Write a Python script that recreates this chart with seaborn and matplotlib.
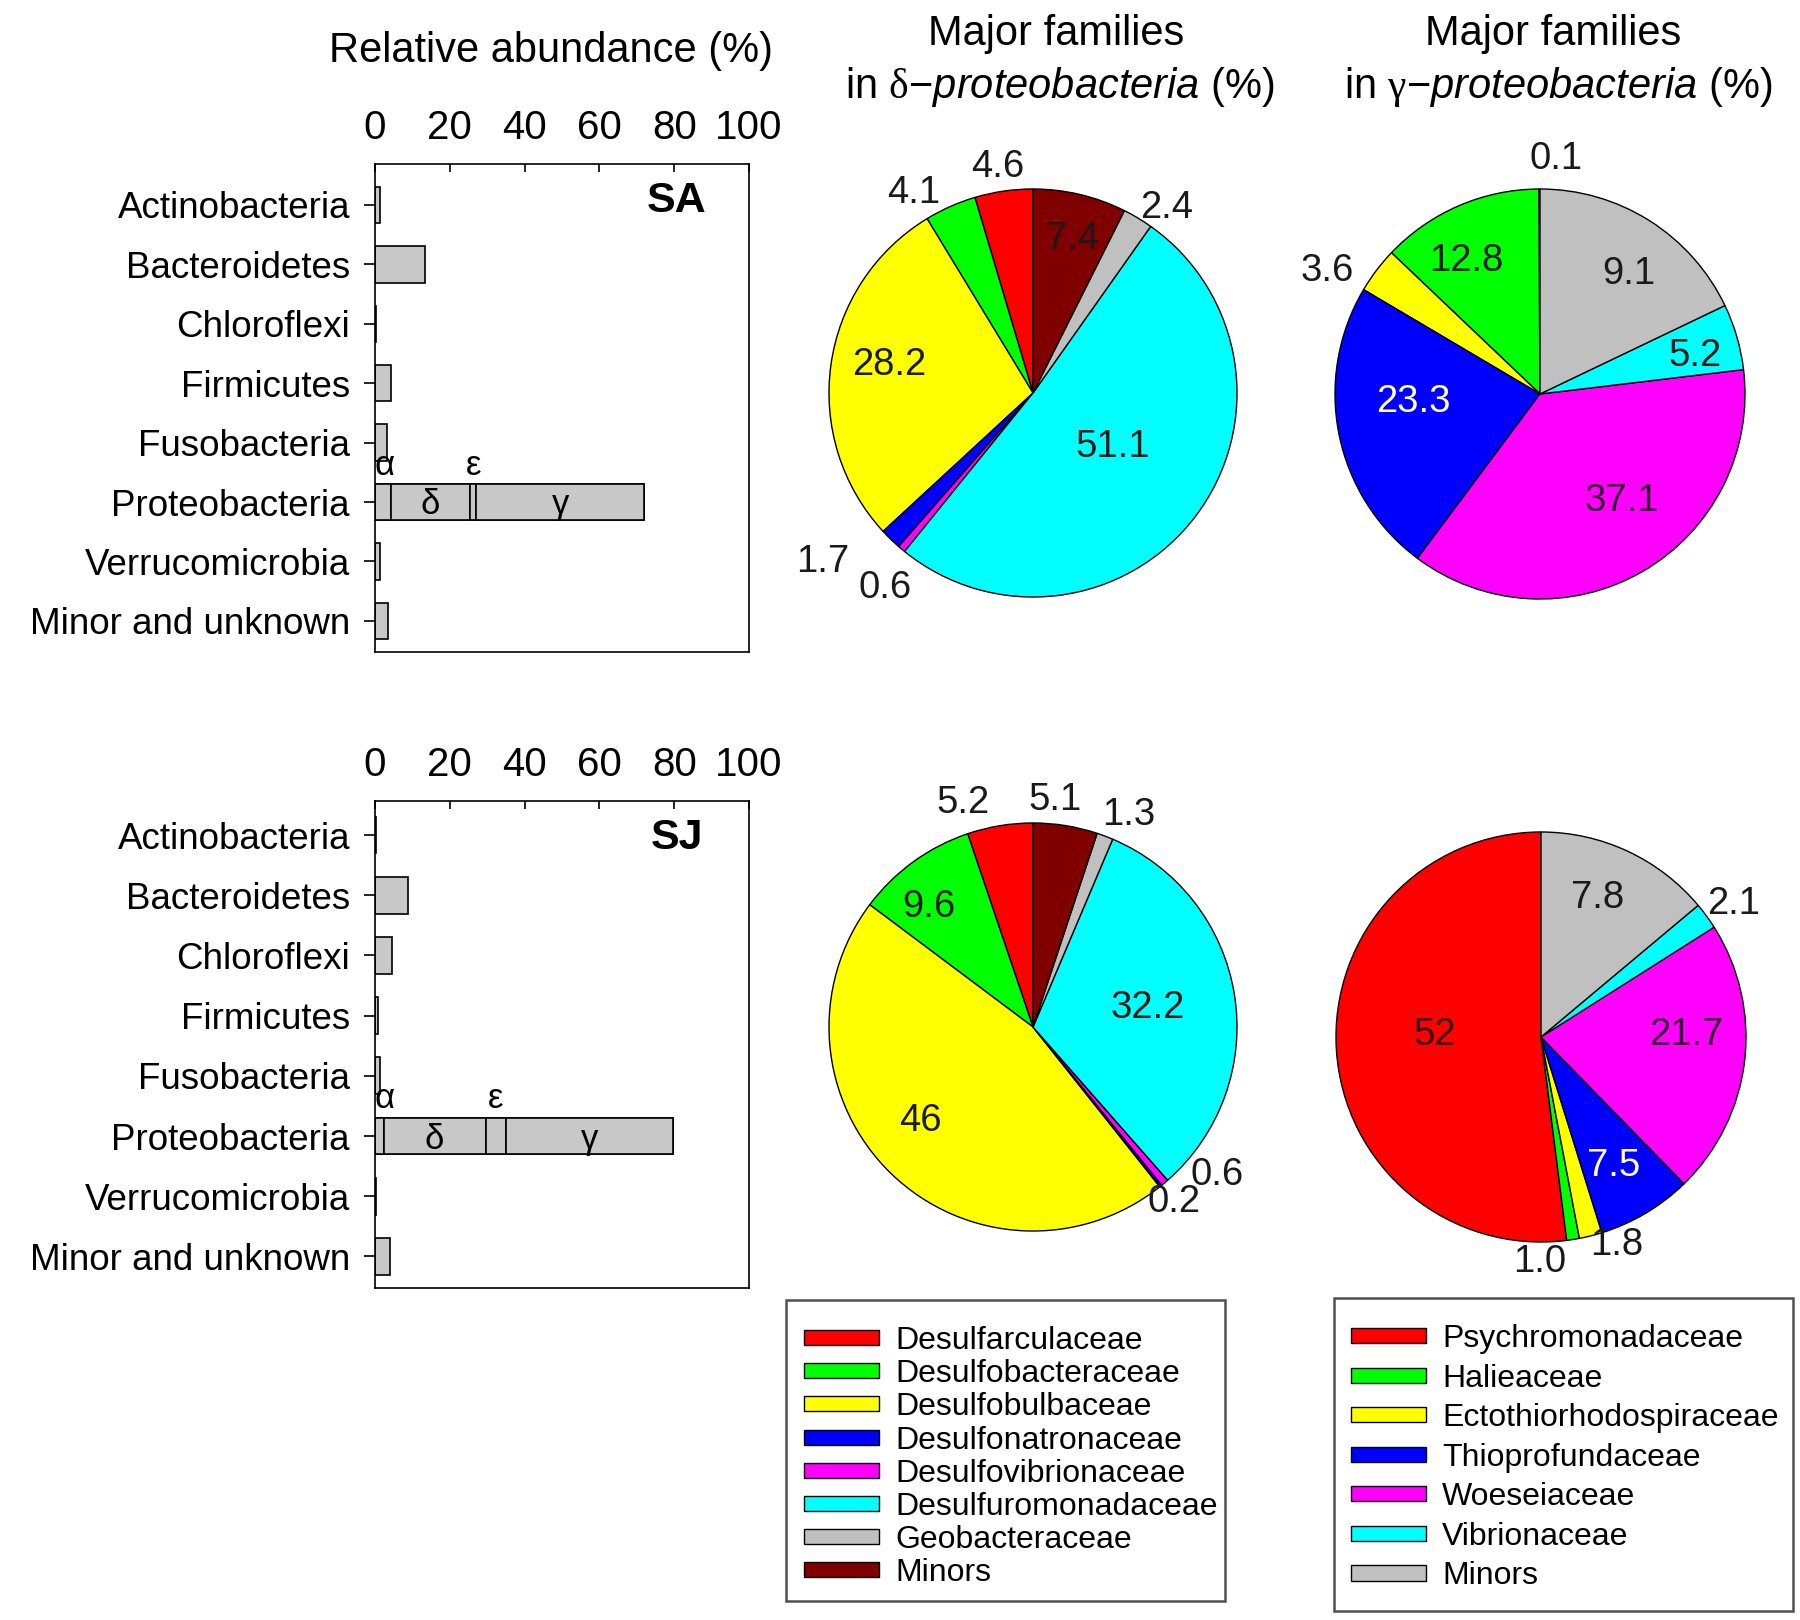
import matplotlib
matplotlib.use("Agg")
import matplotlib.pyplot as plt
from matplotlib.patches import Patch, Rectangle
import seaborn as sns
import pandas as pd
import numpy as np

# ---- data ----
phyla = ['Actinobacteria', 'Bacteroidetes', 'Chloroflexi', 'Firmicutes',
         'Fusobacteria', 'Proteobacteria', 'Verrucomicrobia', 'Minor and unknown']
sa_phyla = [1.4, 13.4, 0.4, 4.2, 3.1, 71.9, 1.4, 3.4]
sj_phyla = [0.4, 8.7, 4.6, 0.7, 1.4, 79.8, 0.3, 4.0]

proteo_classes = ['α', 'δ', 'ε', 'γ']
sa_classes = [4.2, 21.3, 1.6, 44.8]
sj_classes = [2.3, 27.3, 5.5, 44.7]

delta_families = ['Desulfarculaceae', 'Desulfobacteraceae', 'Desulfobulbaceae',
                  'Desulfonatronaceae', 'Desulfovibrionaceae', 'Desulfuromonadaceae',
                  'Geobacteraceae', 'Minors']
delta_colors = ['#ff0000', '#00ff00', '#ffff00', '#0000ff', '#ff00ff', '#00ffff',
                '#c0c0c0', '#800000']
sa_delta = [4.6, 4.1, 28.2, 1.7, 0.6, 51.1, 2.4, 7.4]
sj_delta = [5.2, 9.6, 46, 0.2, 0.6, 32.2, 1.3, 5.1]
sa_delta_labels = ['4.6', '4.1', '28.2', '1.7', '0.6', '51.1', '2.4', '7.4']
sj_delta_labels = ['5.2', '9.6', '46', '0.2', '0.6', '32.2', '1.3', '5.1']

gamma_families = ['Psychromonadaceae', 'Halieaceae', 'Ectothiorhodospiraceae',
                  'Thioprofundaceae', 'Woeseiaceae', 'Vibrionaceae', 'Minors']
gamma_colors = ['#ff0000', '#00ff00', '#ffff00', '#0000ff', '#ff00ff', '#00ffff',
                '#c0c0c0']
# slice sizes as drawn (the grey slice is larger than its printed label)
sa_gamma = [0.1, 12.8, 3.6, 23.3, 37.1, 5.2, 17.9]
sj_gamma = [52, 1.0, 1.8, 7.5, 21.7, 2.1, 13.9]
sa_gamma_labels = ['0.1', '12.8', '3.6', '23.3', '37.1', '5.2', '9.1']
sj_gamma_labels = ['52', '1.0', '1.8', '7.5', '21.7', '2.1', '7.8']

# label placement per slice: (radius, angle nudge in degrees, colour)
sa_delta_pos = [(1.12, 0.5, 'k'), (1.14, 7, 'k'), (0.72, -3, 'k'), (1.32, -7, 'k'),
                (1.2, 3, 'k'), (0.47, 3, 'k'), (1.12, -5, 'k'), (0.78, -1, '#1a1a1a')]
sj_delta_pos = [(1.15, 8, 'k'), (0.78, 5, 'k'), (0.72, -6, 'k'), (1.1, 0, 'k'),
                (1.16, 11, 'k'), (0.57, 0, 'k'), (1.14, -3.7, 'k'), (1.12, 3.6, 'k')]
sa_gamma_pos = [(1.15, -4, 'k'), (0.74, 5.6, 'k'), (1.2, 7, 'k'), (0.62, -7.7, 'white'),
                (0.66, 7.4, '#300030'), (0.78, -2.3, 'k'), (0.73, -4.3, 'k')]
sj_gamma_pos = [(0.52, -4.6, '#300000'), (1.1, -9.3, 'k'), (1.08, 6, 'k'),
                (0.72, -1.4, 'white'), (0.71, 7.3, '#300030'), (1.14, -1.6, 'k'),
                (0.73, 2.9, 'k')]

W, H = 1800, 1620
BAR_GRAY = '#c8c8c8'

sns.set_theme(style='ticks')
plt.rcParams['font.family'] = ['Liberation Sans', 'DejaVu Sans']
plt.rcParams['mathtext.fontset'] = 'custom'
plt.rcParams['mathtext.rm'] = 'Liberation Serif'
plt.rcParams['mathtext.it'] = 'Liberation Sans:italic'
plt.rcParams['text.color'] = 'black'
plt.rcParams['legend.labelcolor'] = 'black'

fig = plt.figure(figsize=(W / 100, H / 100), dpi=100)


def px_rect(x, y, w, h):
    return [x / W, 1 - (y + h) / H, w / W, h / H]


def draw_bars(rect, values, cls_values, tag, ylim):
    ax = fig.add_axes(px_rect(*rect))
    df = pd.DataFrame({'phylum': phyla, 'value': values})
    sns.barplot(data=df, x='value', y='phylum', orient='h', color=BAR_GRAY,
                saturation=1, width=0.61, edgecolor='black', linewidth=1.2, ax=ax)
    row = phyla.index('Proteobacteria')
    left = np.concatenate([[0], np.cumsum(cls_values)[:-1]])
    ax.barh([row] * len(cls_values), cls_values, left=left, height=0.61,
            color=BAR_GRAY, edgecolor='black', linewidth=1.2)
    # class letters
    ax.text(0, row - 0.62, proteo_classes[0], ha='left', va='center', fontsize=25)
    ax.text(left[2] + cls_values[2] / 2, row - 0.62, proteo_classes[2],
            ha='center', va='center', fontsize=25)
    for i in (1, 3):
        ax.text(left[i] + cls_values[i] / 2, row + 0.05, proteo_classes[i],
                ha='center', va='center', fontsize=25)
    ax.text(0.807, 0.925, tag, transform=ax.transAxes, ha='center', va='center',
            fontsize=31, fontweight='bold')
    ax.set_xlim(0, 100)
    ax.set_ylim(*ylim)
    ax.set_xticks([0, 20, 40, 60, 80, 100])
    ax.set_xlabel('')
    ax.set_ylabel('')
    ax.tick_params(axis='x', top=True, bottom=False, labeltop=True, labelbottom=False,
                   direction='in', length=6, width=1.2, pad=12, labelsize=29, colors='black')
    ax.tick_params(axis='y', left=True, direction='out', length=8, width=1.2, pad=10,
                   labelsize=26.5, colors='black')
    for s in ax.spines.values():
        s.set_visible(True)
        s.set_color('black')
        s.set_linewidth(1.2)
    return ax


def draw_pie(center, r, sizes, labels, colors, layout):
    cx, cy = center
    ax = fig.add_axes(px_rect(cx - r, cy - r, 2 * r, 2 * r))
    wedges, _ = ax.pie(sizes, colors=colors, startangle=90, counterclock=True,
                       wedgeprops=dict(edgecolor='black', linewidth=1.0, clip_on=False))
    ax.set_xlim(-1, 1)
    ax.set_ylim(-1, 1)
    ax.set_aspect('equal')
    ax.axis('off')
    for w, txt, (rad, nudge, col) in zip(wedges, labels, layout):
        ang = np.deg2rad((w.theta1 + w.theta2) / 2 + nudge)
        ax.text(rad * np.cos(ang), rad * np.sin(ang), txt, ha='center', va='center',
                fontsize=27.5, color=col, clip_on=False)
    return ax


def draw_legend(box, names, colors, anchor, spacing):
    x, y, w, h = box
    fig.patches.append(Rectangle((x / W, 1 - (y + h) / H), w / W, h / H,
                                 transform=fig.transFigure, fill=False,
                                 edgecolor='#505050', linewidth=1.8))
    handles = [Patch(facecolor=c, edgecolor='black', linewidth=1.0) for c in colors]
    fig.legend(handles, names, loc='upper left',
               bbox_to_anchor=(anchor[0] / W, 1 - anchor[1] / H),
               frameon=False, fontsize=23, handlelength=2.35, handleheight=0.35,
               handletextpad=0.5, labelspacing=spacing, borderpad=0, borderaxespad=0)


# left column: relative abundance bars
fig.text(551 / W, 1 - 51 / H, 'Relative abundance (%)', ha='center', va='center', fontsize=30)
draw_bars((375, 164, 374, 488), sa_phyla, sa_classes, 'SA', (7.525, -0.69))
draw_bars((375, 801, 374, 487), sj_phyla, sj_classes, 'SJ', (7.525, -0.565))

# pie titles
fig.text(1056 / W, 1 - 34 / H, 'Major families', ha='center', va='center', fontsize=30)
fig.text(1060 / W, 1 - 87 / H, 'in $\\mathrm{\\delta}$\u2212$\\mathit{proteobacteria}$ (%)',
         ha='center', va='center', fontsize=30)
fig.text(1553 / W, 1 - 34 / H, 'Major families', ha='center', va='center', fontsize=30)
fig.text(1558 / W, 1 - 87 / H, 'in $\\mathrm{\\gamma}$\u2212$\\mathit{proteobacteria}$ (%)',
         ha='center', va='center', fontsize=30)

draw_pie((1033, 393), 204, sa_delta, sa_delta_labels, delta_colors, sa_delta_pos)
draw_pie((1540, 394), 205, sa_gamma, sa_gamma_labels, gamma_colors, sa_gamma_pos)
draw_pie((1033, 1027), 204, sj_delta, sj_delta_labels, delta_colors, sj_delta_pos)
draw_pie((1541, 1037), 205, sj_gamma, sj_gamma_labels, gamma_colors, sj_gamma_pos)

draw_legend((786, 1300, 439, 301), delta_families, delta_colors, (804, 1326), 0.1)
draw_legend((1334, 1298, 459, 313), gamma_families, gamma_colors, (1351, 1324), 0.3)

fig.savefig('out.png', dpi=100)
